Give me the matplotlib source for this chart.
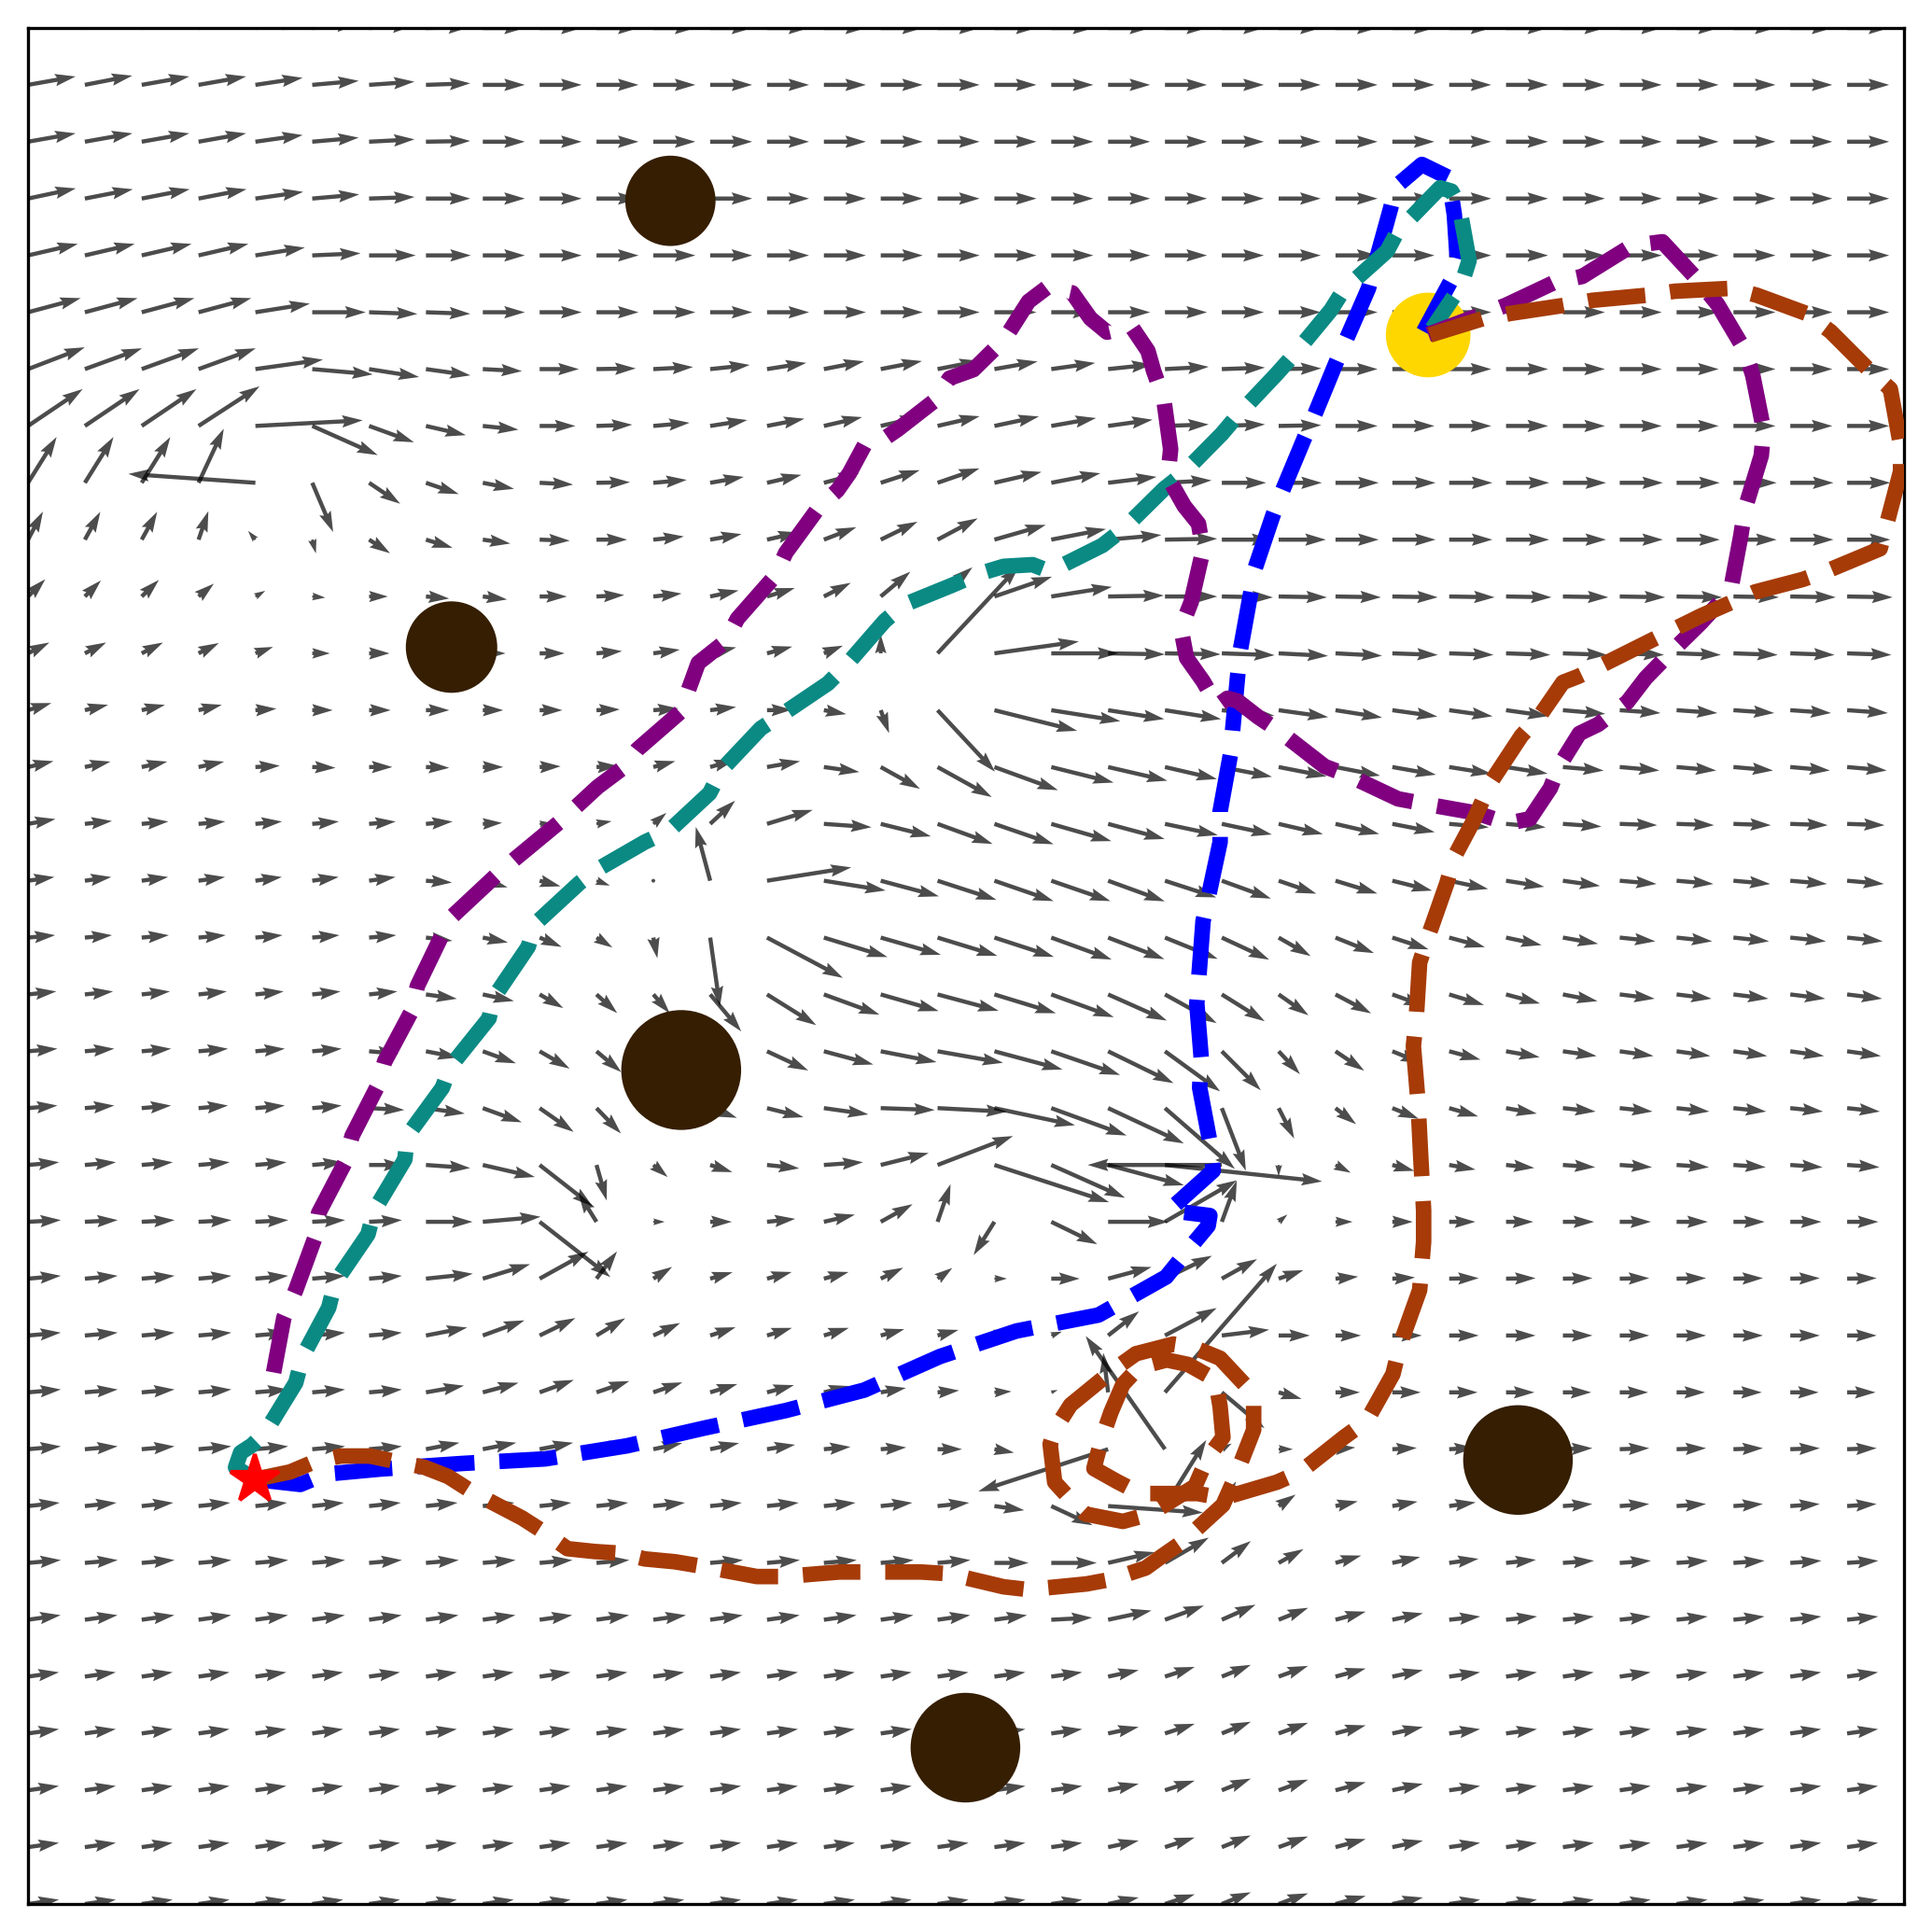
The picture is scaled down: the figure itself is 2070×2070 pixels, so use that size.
import numpy as np
import matplotlib
matplotlib.use("Agg")
import matplotlib.pyplot as plt
from matplotlib.patches import Circle

N = 34  # arrows per side, grid spacing = 1

# far-field arrow of each row (row 0 = top): angle in degrees, length in grid cells
ROW_ANGLE = [0, 0, 0, 0, 0, 0, 0, 0, 0, 0, -1, -2, -4, -5, -2, -5, -6, -7, -8, -6,
             -4, 0, 1, 0, 0, 2, 4, 4, 6, 8, 8, 8, 8, 8]
ROW_LEN = [0.74, 0.74, 0.74, 0.74, 0.74, 0.74, 0.74, 0.74, 0.76, 0.76, 0.80, 0.78,
           0.72, 0.70, 0.66, 0.65, 0.63, 0.62, 0.60, 0.58, 0.57, 0.55, 0.52, 0.52,
           0.50, 0.52, 0.52, 0.55, 0.55, 0.55, 0.55, 0.55, 0.55, 0.55]

# left part of each row, starting at column 0: (angles, lengths)
BOTTOM_A = [8, 8, 8, 8, 8, 8, 8, 8, 8, 8, 8, 8, 8, 8, 8, 8, 8, 8, 8, 12, 18, 22, 20, 15, 12]
BOTTOM_L = [0.55, 0.55, 0.55, 0.55, 0.55, 0.55, 0.55, 0.55, 0.55, 0.55, 0.55, 0.55, 0.55,
            0.55, 0.55, 0.55, 0.55, 0.55, 0.55, 0.55, 0.55, 0.55, 0.55, 0.55, 0.55]
SPANS = {
    0: ([10, 10, 10, 10, 8, 5, 3, 1],
        [0.85, 0.85, 0.85, 0.85, 0.84, 0.80, 0.78, 0.76]),
    1: ([10, 11, 10, 10, 8.5, 5, 4, 2],
        [0.85, 0.85, 0.85, 0.85, 0.84, 0.82, 0.80, 0.78]),
    2: ([10, 10, 10, 10, 8, 5, 3, 1],
        [0.85, 0.85, 0.85, 0.85, 0.84, 0.82, 0.80, 0.78]),
    3: ([12, 11, 11, 11, 8, 5, 2, 0],
        [0.86, 0.86, 0.86, 0.86, 0.85, 0.83, 0.80, 0.78]),
    4: ([13, 13, 13, 13, 9, 2.5, 0, 0],
        [0.90, 0.90, 0.90, 0.90, 0.88, 0.85, 0.82, 0.79]),
    5: ([15, 15, 15, 15, 9, 0, -2, -2],
        [0.96, 0.96, 0.96, 0.96, 0.97, 0.94, 0.85, 0.78]),
    6: ([21, 20, 20, 20, 8, -5, -9, -8, -3, 0, 1, 3, 6, 9, 11, 11, 11, 10, 8, 6, 3, 2, 1],
        [1.07, 1.07, 1.07, 1.07, 1.20, 1.07, 0.89, 0.79, 0.69, 0.69, 0.69, 0.70, 0.70,
         0.70, 0.72, 0.74, 0.76, 0.77, 0.78, 0.78, 0.77, 0.76, 0.75]),
    7: ([34, 34, 34, 33, 3, -24, -20, -13, -6, 0, 2, 5, 9, 11, 13, 13, 13, 12, 10, 8, 2, 2, 1],
        [1.16, 1.16, 1.16, 1.28, 1.89, 1.26, 0.84, 0.72, 0.63, 0.63, 0.63, 0.64, 0.66,
         0.67, 0.69, 0.72, 0.76, 0.80, 0.80, 0.79, 0.77, 0.76, 0.75]),
    8: ([58, 58, 58, 65, 176, -67, -34, -19, -11, -3, 1, 5, 10, 13, 15, 18, 19, 13, 11, 7, 3, 0],
        [0.95, 0.95, 0.95, 1.05, 2.24, 0.94, 0.66, 0.61, 0.56, 0.59, 0.59, 0.59, 0.60,
         0.62, 0.64, 0.72, 0.78, 0.85, 0.88, 0.86, 0.82, 0.78]),
    9: ([62, 61, 61, 71, 130, -75, -33, -17, -8, -2, 0, 6, 10, 13, 21, 26, 28, 16, 11, 5, 1, 0, 0],
        [0.56, 0.56, 0.56, 0.53, 0.20, 0.25, 0.44, 0.49, 0.49, 0.53, 0.54, 0.54, 0.56,
         0.57, 0.61, 0.72, 0.80, 0.94, 0.98, 0.94, 0.92, 0.89, 0.83]),
    10: ([45, 45, 44, 40, 30, -5, 0, -5, -7, 0, 3, 6, 12, 17, 27, 40, 40, 19, 9, 1, 0, -1, -1],
         [0.43, 0.40, 0.42, 0.35, 0.20, 0.23, 0.33, 0.41, 0.43, 0.48, 0.49, 0.50, 0.51,
          0.51, 0.53, 0.68, 0.80, 1.07, 1.08, 0.98, 0.92, 0.90, 0.85]),
    11: ([27, 27, 27, 27, 20, 0, 0, 0, 0, 0, 5, 8, 13, 15, 22, 90, 47, 8, 0, -1, -1, -2, -3, -3, -2],
         [0.42, 0.42, 0.42, 0.40, 0.33, 0.31, 0.36, 0.30, 0.40, 0.44, 0.45, 0.47, 0.47,
          0.46, 0.36, 0.33, 2.10, 1.50, 1.18, 1.00, 0.98, 0.93, 0.87, 0.82, 0.80]),
    12: ([17, 13, 13, 13, 4, 0, 0, 0, 0, 0, 2, 4, 7, 1, -10, -70, -47, -14, -9, -9, -9, -6,
          -8, -9, -8, -8, -8, -5],
         [0.43, 0.42, 0.42, 0.42, 0.37, 0.36, 0.38, 0.41, 0.36, 0.40, 0.41, 0.44, 0.46,
          0.44, 0.40, 0.43, 1.48, 1.50, 1.23, 1.00, 1.00, 0.93, 0.88, 0.83, 0.80, 0.77,
          0.75, 0.75]),
    13: ([13, 12, 12, 12, 3, -2, 0, -2, 0, 2, 3, 15, 16, 10, -8, -29, -29, -20, -14, -13,
          -13, -11, -11, -11, -10, -9, -9, -5],
         [0.46, 0.46, 0.46, 0.46, 0.43, 0.41, 0.41, 0.41, 0.36, 0.37, 0.38, 0.40, 0.45,
          0.59, 0.63, 0.79, 1.09, 1.19, 1.13, 1.07, 0.94, 0.90, 0.86, 0.80, 0.78, 0.75,
          0.74, 0.72]),
    14: ([10, 6, 5, 5, 5, 5, 5, 5, 3, 5, 10, 40, 43, 17, -4, -14, -20, -19, -16, -15, -12,
          -12, -13, -13, -11, -5, -5, -4],
         [0.49, 0.48, 0.47, 0.47, 0.47, 0.47, 0.47, 0.47, 0.34, 0.20, 0.27, 0.30, 0.60,
          0.84, 0.84, 0.91, 1.03, 1.10, 1.10, 1.03, 0.95, 0.90, 0.80, 0.79, 0.76, 0.70,
          0.70, 0.68]),
    15: ([8, 8, 8, 8, 8, 8, 8, -4, -15, -15, -20, 0, 105, 9, -9, -15, -18, -19, -19, -20,
          -18, -20, -19, -17, -14, -12, -9, -8],
         [0.47, 0.47, 0.47, 0.47, 0.47, 0.47, 0.47, 0.46, 0.45, 0.38, 0.25, 0.02, 0.98,
          1.50, 1.10, 1.06, 1.09, 1.10, 1.10, 1.06, 0.95, 0.92, 0.70, 0.77, 0.72, 0.70,
          0.68, 0.66]),
    16: ([5, 5, 5, 5, 5, 5, 5, -7, -11, -23, -32, -79, -82, -28, -17, -16, -17, -18, -20,
          -21, -22, -25, -30, -22, -18, -15, -12, -10],
         [0.48, 0.48, 0.48, 0.48, 0.48, 0.48, 0.48, 0.47, 0.45, 0.42, 0.33, 0.37, 1.23,
          1.51, 1.17, 1.10, 1.10, 1.10, 1.13, 1.06, 1.00, 0.92, 0.65, 0.73, 0.67, 0.65,
          0.64, 0.63]),
    17: ([6, 6, 6, 6, 6, 6, 6, -8, -12, -30, -42, -49, -50, -32, -20, -16, -15, -17, -20,
          -24, -29, -32, -35, -28, -20, -17, -15, -11],
         [0.50, 0.50, 0.50, 0.50, 0.50, 0.50, 0.50, 0.55, 0.56, 0.48, 0.49, 0.44, 0.85,
          1.02, 1.04, 1.06, 1.11, 1.13, 1.17, 1.13, 1.04, 0.89, 0.64, 0.71, 0.60, 0.64,
          0.62, 0.62]),
    18: ([5, 5, 5, 5, 5, 5, -5, -11, -20, -30, -40, 0, 0, -25, -15, -11, -10, -15, -19,
          -26, -36, -45, -47, -34, -22, -15, -10],
         [0.52, 0.52, 0.52, 0.52, 0.52, 0.52, 0.52, 0.58, 0.62, 0.61, 0.57, 0.10, 0.10,
          0.80, 0.90, 1.00, 1.17, 1.24, 1.28, 1.28, 1.20, 0.97, 0.55, 0.61, 0.55, 0.57,
          0.60]),
    19: ([5, 5, 5, 5, 5, 5, -3, -8, -20, -35, -46, 0, -20, -14, -8, -2, -3, -12, -20, -25,
          -41, -69, -63, -38, -22, -16, -10],
         [0.52, 0.52, 0.52, 0.52, 0.52, 0.52, 0.62, 0.69, 0.73, 0.73, 0.62, 0.10, 0.50,
          0.66, 0.79, 0.95, 1.22, 1.45, 1.41, 1.47, 1.63, 1.18, 0.60, 0.46, 0.50, 0.53,
          0.55]),
    20: ([5, 5, 5, 5, 5, 5, 0, -4, -13, -38, -74, -40, -18, -6, 4, 14, 21, -18, -24, -15,
          -6, 180, -90, -27, -15, -10, -6],
         [0.55, 0.55, 0.55, 0.55, 0.55, 0.55, 0.62, 0.78, 0.94, 1.18, 0.65, 0.33, 0.41,
          0.57, 0.69, 0.87, 1.42, 2.12, 1.42, 1.38, 2.78, 2.36, 0.20, 0.30, 0.40, 0.47,
          0.50]),
    21: ([3, 3, 3, 3, 3, 3, 3, 0, 5, -38, 122, 0, 0, 6, 13, 29, 71, 238, -26, 0, 30, 70,
          40, 0, 0, 0, 0],
         [0.58, 0.58, 0.58, 0.58, 0.58, 0.58, 0.58, 0.82, 1.02, 1.58, 0.60, 0.20, 0.38,
          0.50, 0.56, 0.64, 0.70, 0.69, 0.90, 1.06, 1.46, 0.77, 0.20, 0.30, 0.36, 0.46,
          0.48]),
    22: ([5, 5, 5, 5, 5, 5, 5, 6, 17, 29, 53, 32, 16, 15, 15, 26, 36, 0, 0, 15, 26, 29, 19,
          5, 3],
         [0.58, 0.58, 0.58, 0.58, 0.58, 0.58, 0.58, 0.83, 0.87, 0.98, 0.60, 0.39, 0.41,
          0.45, 0.45, 0.44, 0.32, 0.22, 0.50, 0.79, 0.92, 0.71, 0.46, 0.40, 0.40]),
    23: ([5, 5, 5, 5, 5, 5, 5, 11, 20, 26, 31, 25, 18, 17, 17, 15, 15, 15, 20, 38, 28, 7,
          0, 0],
         [0.58, 0.58, 0.58, 0.58, 0.58, 0.58, 0.58, 0.74, 0.78, 0.70, 0.59, 0.52, 0.47,
          0.46, 0.46, 0.43, 0.38, 0.35, 0.20, 0.69, 1.03, 0.84, 0.55, 0.45]),
    24: ([5, 5, 5, 5, 5, 5, 5, 10, 15, 20, 19, 19, 17, 15, 14, 10, 5, 3, 20, 97, 49, -40,
          -16, 0],
         [0.58, 0.58, 0.58, 0.58, 0.58, 0.58, 0.58, 0.68, 0.65, 0.64, 0.61, 0.54, 0.50,
          0.49, 0.46, 0.45, 0.38, 0.30, 0.12, 0.70, 3.00, 0.98, 0.42, 0.43]),
    25: ([5, 5, 5, 5, 5, 5, 5, 11, 11, 11, 11, 12, 12, 9, 5, 4, 0, -10, 0, 198, 125, 30, 0,
          5, 3, 3],
         [0.58, 0.58, 0.58, 0.58, 0.58, 0.58, 0.58, 0.60, 0.60, 0.60, 0.60, 0.52, 0.52,
          0.50, 0.47, 0.45, 0.43, 0.35, 0.10, 2.40, 2.43, 0.20, 0.25, 0.35, 0.43, 0.45]),
    26: ([6, 6, 6, 6, 6, 6, 6, 6, 6, 6, 6, 6, 6, 6, 6, 6, 6, -8, -25, -4, 58, 60, 34, 12,
          10, 8],
         [0.56, 0.56, 0.56, 0.56, 0.56, 0.56, 0.56, 0.56, 0.56, 0.56, 0.56, 0.56, 0.56,
          0.56, 0.56, 0.56, 0.56, 0.53, 0.80, 1.67, 1.37, 0.50, 0.36, 0.40, 0.45, 0.47]),
    27: ([5, 5, 5, 5, 5, 5, 5, 5, 5, 5, 5, 5, 5, 5, 5, 5, 5, 0, 0, 13, 30, 37, 29, 16, 12,
          8, 6],
         [0.58, 0.58, 0.58, 0.58, 0.58, 0.58, 0.58, 0.58, 0.58, 0.58, 0.58, 0.58, 0.58,
          0.58, 0.58, 0.58, 0.58, 0.60, 0.80, 0.84, 0.89, 0.64, 0.50, 0.47, 0.50, 0.52,
          0.53]),
    28: ([8, 8, 8, 8, 8, 8, 8, 8, 8, 8, 8, 8, 8, 8, 8, 8, 8, 8, 3, 12, 20, 24, 22, 15, 12],
         [0.58, 0.58, 0.58, 0.58, 0.58, 0.58, 0.58, 0.58, 0.58, 0.58, 0.58, 0.58, 0.58,
          0.58, 0.58, 0.58, 0.58, 0.58, 0.72, 0.78, 0.73, 0.65, 0.56, 0.55, 0.55]),
    29: (BOTTOM_A, BOTTOM_L),
    30: (BOTTOM_A, BOTTOM_L),
    31: (BOTTOM_A, BOTTOM_L),
    32: (BOTTOM_A, BOTTOM_L),
    33: (BOTTOM_A, BOTTOM_L),
}

# obstacles, goal and start
OBST_X = [11.30, 7.45, 11.49, 26.21, 16.49]
OBST_Y = [29.96, 22.11, 14.67, 7.81, 2.75]
OBST_R = [0.76, 0.77, 1.02, 0.93, 0.93]
GOAL = (24.63, 27.60)
GOAL_R = 0.71
START = (3.99, 7.47)

# trajectories
BLUE_X = [3.99, 4.79, 5.22, 6.19, 7.65, 9.10, 10.54, 11.89, 13.33, 14.71, 16.04, 17.39,
          18.83, 20.02, 20.46, 20.76, 20.79, 20.07, 20.85, 20.79, 20.61, 20.64, 20.56,
          20.67, 20.76, 20.97, 20.97, 21.15, 21.28, 21.33, 21.51, 21.58, 21.90, 22.05,
          22.45, 22.63, 23.00, 23.18, 23.58, 23.97, 24.06, 24.52, 24.99, 25.09, 25.14,
          25.04, 24.55]
BLUE_Y = [7.47, 7.38, 7.56, 7.65, 7.75, 7.83, 8.06, 8.37, 8.68, 9.04, 9.63, 10.08, 10.36,
          11.03, 11.57, 11.93, 12.11, 12.20, 12.90, 13.41, 14.36, 14.86, 15.84, 17.29,
          17.70, 18.68, 19.22, 20.21, 21.62, 22.08, 23.07, 23.48, 24.43, 24.82, 25.78,
          26.19, 27.09, 27.50, 28.42, 29.83, 30.21, 30.60, 30.37, 29.72, 28.96, 28.57,
          27.66]
TEAL_X = [3.99, 3.65, 3.74, 3.94, 4.17, 4.71, 4.83, 5.29, 5.40, 5.98, 6.09, 6.63, 6.67,
          7.29, 7.42, 8.11, 8.19, 8.80, 8.92, 9.70, 10.00, 10.85, 11.28, 11.99, 12.20,
          12.89, 13.27, 14.07, 14.40, 15.07, 15.40, 16.26, 16.70, 17.16, 17.67, 17.98,
          18.90, 19.26, 19.98, 20.28, 21.00, 21.28, 21.97, 22.30, 22.92, 23.14, 23.91,
          24.09, 24.84, 25.04, 25.17, 25.35, 25.21, 24.70]
TEAL_Y = [7.47, 7.68, 7.94, 8.07, 8.29, 9.17, 9.63, 10.49, 10.93, 11.78, 12.20, 13.10,
          13.51, 14.36, 14.72, 15.58, 15.94, 16.84, 17.24, 17.96, 18.19, 18.68, 18.88,
          19.54, 19.95, 20.68, 20.93, 21.47, 21.80, 22.57, 22.85, 23.20, 23.39, 23.53,
          23.56, 23.44, 23.90, 24.18, 24.89, 25.13, 25.86, 26.19, 26.92, 27.29, 28.04,
          28.39, 29.08, 29.42, 30.19, 30.13, 29.90, 28.91, 28.47, 27.71]
PURPLE_X = [4.32, 4.50, 4.71, 5.04, 5.11, 5.58, 5.70, 6.16, 6.27, 6.75, 6.85, 7.29,
            7.47, 8.23, 8.55, 9.36, 10.02, 10.46, 10.72, 11.49, 11.63, 11.79, 12.27,
            12.48, 13.14, 13.33, 13.92, 14.24, 14.45, 14.73, 15.11, 15.30, 15.93, 16.21,
            16.63, 17.18, 17.60, 17.93, 18.37, 18.69, 18.98, 19.41, 19.70, 19.80, 19.98,
            20.10, 20.05, 20.34, 20.59, 20.67, 20.46, 20.28, 20.38, 20.67, 20.92, 21.10,
            21.28, 21.64, 22.00, 22.81, 23.23, 24.10, 24.58, 25.48, 26.03, 26.42, 26.78,
            26.93, 27.29, 27.62, 28.13, 28.46, 28.88, 29.43, 29.95, 30.13, 30.20, 30.49,
            30.53, 30.34, 30.20, 29.72, 29.39, 28.75, 28.21, 27.34, 26.86, 25.99, 24.63]
PURPLE_Y = [9.35, 10.31, 10.80, 11.70, 12.15, 13.05, 13.51, 14.41, 14.81, 15.71,
            16.15, 17.06, 17.38, 18.09, 18.37, 19.04, 19.65, 19.98, 20.31, 20.98, 21.39,
            21.83, 22.21, 22.61, 23.36, 23.77, 24.58, 24.87, 25.17, 25.69, 25.81, 25.94,
            26.43, 26.84, 26.99, 27.53, 28.19, 28.44, 28.34, 27.89, 27.65, 27.75, 27.32,
            26.97, 26.46, 25.59, 25.10, 24.59, 24.28, 23.82, 22.90, 22.44, 21.92, 21.51,
            21.08, 21.21, 21.16, 20.88, 20.64, 20.01, 19.85, 19.44, 19.35, 19.19, 19.01,
            19.09, 19.63, 20.01, 20.59, 20.75, 21.14, 21.57, 22.00, 22.54, 23.11, 24.07,
            24.53, 25.48, 25.94, 26.89, 27.33, 28.14, 28.55, 29.24, 29.17, 28.63, 28.53,
            28.12, 27.61]
ORANGE_X = [3.99, 4.61, 5.04, 5.50, 6.01, 6.49, 6.98, 7.39, 7.83, 8.69, 9.05, 9.49, 9.97,
            10.43, 10.85, 11.38, 11.86, 12.82, 13.30, 14.27, 14.75, 15.71, 16.19, 17.16,
            17.60, 18.62, 19.05, 19.66, 19.95, 20.31, 21.02, 21.22, 21.56, 21.56, 21.40,
            20.97, 20.48, 20.15, 19.49, 19.10, 18.34, 18.06, 17.98, 18.06, 18.39, 18.60,
            19.26, 19.74, 20.53, 20.74, 21.02, 20.97, 20.89, 20.41, 20.03, 19.54, 19.26,
            19.05, 18.88, 18.75, 19.16, 19.57, 20.57, 21.02, 21.97, 22.38, 23.15, 23.55,
            24.01, 24.14, 24.48, 24.55, 24.55, 24.50, 24.45, 24.37, 24.42, 24.48, 24.63,
            24.96, 25.09, 25.42, 25.73, 26.27, 26.60, 27.00, 27.26, 27.68, 28.56, 29.43,
            30.38, 31.22, 31.67, 32.58, 32.69, 32.94, 32.94, 32.76, 32.36, 31.71, 31.28,
            30.41, 29.95, 28.97, 28.49, 27.52, 27.01, 26.08, 25.60, 24.66]
ORANGE_Y = [7.47, 7.60, 7.78, 7.88, 7.88, 7.78, 7.68, 7.52, 7.24, 6.79, 6.56, 6.25, 6.20,
            6.17, 6.07, 6.02, 5.94, 5.76, 5.76, 5.84, 5.84, 5.84, 5.81, 5.58, 5.53, 5.63,
            5.71, 5.91, 6.12, 6.37, 7.02, 7.47, 8.34, 8.91, 9.14, 9.60, 9.80, 9.85, 9.68,
            9.40, 8.78, 8.34, 8.09, 7.42, 7.06, 6.86, 6.73, 6.86, 7.35, 7.83, 8.21, 8.75,
            9.22, 9.49, 9.57, 9.44, 9.14, 8.65, 8.16, 7.66, 7.43, 7.22, 7.22, 7.14, 7.42,
            7.60, 8.21, 8.50, 9.32, 9.85, 10.80, 11.65, 12.20, 13.13, 14.13, 15.09, 15.58,
            16.56, 17.02, 17.96, 18.42, 19.04, 19.73, 20.55, 20.91, 21.49, 21.59, 21.79,
            22.23, 22.66, 23.08, 23.30, 23.46, 23.84, 24.25, 25.20, 25.66, 26.65, 27.01,
            27.66, 27.98, 28.30, 28.42, 28.37, 28.30, 28.21, 28.12, 27.98, 27.89, 27.60]

PATHS = [(BLUE_X, BLUE_Y, "blue"),
         (TEAL_X, TEAL_Y, "#0b8a84"),
         (PURPLE_X, PURPLE_Y, "purple"),
         (ORANGE_X, ORANGE_Y, "#a63b08")]

# build the vector field
ang = np.repeat(np.array(ROW_ANGLE, dtype=float)[:, None], N, axis=1)
mag = np.repeat(np.array(ROW_LEN, dtype=float)[:, None], N, axis=1)
for r, (a, l) in SPANS.items():
    ang[r, :len(a)] = a
    mag[r, :len(l)] = l

cols, rows = np.meshgrid(np.arange(N), np.arange(N))
X = cols
Y = (N - 1) - rows
U = mag * np.cos(np.radians(ang))
V = mag * np.sin(np.radians(ang))

fig = plt.figure(figsize=(6.9, 6.9), dpi=300)
ax = fig.add_axes([0.0145, 0.0145, 0.971, 0.971])

ax.quiver(X, Y, U, V, angles="xy", scale_units="xy", scale=1,
          width=0.0022, color="black", alpha=0.7, zorder=1)

for x, y, r in zip(OBST_X, OBST_Y, OBST_R):
    ax.add_patch(Circle((x, y), r, color="#351e02", zorder=2))
ax.add_patch(Circle(GOAL, GOAL_R, color="gold", zorder=2))

for px, py, c in PATHS:
    ax.plot(px, py, linestyle="--", color=c, lw=4, zorder=3)

ax.plot(START[0], START[1], marker="*", color="red", markersize=13,
        linestyle="none", zorder=5)

ax.set_xlim(0, N - 1)
ax.set_ylim(0, N - 1)
ax.set_aspect("equal")
ax.set_xticks([])
ax.set_yticks([])

fig.savefig("out.png", dpi=300)
